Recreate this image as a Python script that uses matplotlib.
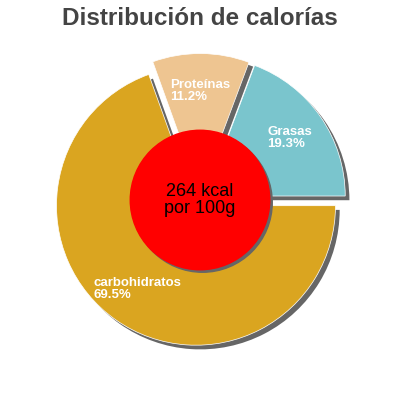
import matplotlib
matplotlib.use("Agg")
import matplotlib.pyplot as plt

# Datos
categorias = ['Grasas', 'Proteínas', 'carbohidratos']
porcentajes = [19.3, 11.2, 69.5]
colores = ['#7AC5CD', '#EEC591', '#DAA520']
texto_centro = '264 kcal\npor 100g'
titulo = 'Distribución de calorías'

plt.rcParams['font.family'] = ['Liberation Sans', 'DejaVu Sans']

fig = plt.figure(figsize=(4, 4), dpi=100)
ax = fig.add_axes([0, 0, 1, 1])
ax.set_aspect('equal')
lim = 200 / 139.5

explode = [0.05] * len(porcentajes)
etiquetas = [f'{c}\n{p:.1f}%' for c, p in zip(categorias, porcentajes)]

# sombra
sombra = 0.03
ax.pie(porcentajes, colors=['#666666'] * 3, explode=explode, startangle=0,
       counterclock=True, center=(sombra, -sombra), radius=1, frame=True)

wedges, textos = ax.pie(porcentajes, colors=colores, explode=explode, startangle=0,
                        counterclock=True, labels=etiquetas, labeldistance=0.73,
                        radius=1, frame=True,
                        wedgeprops={'linewidth': 0.5, 'edgecolor': 'white'},
                        textprops={'color': 'white', 'fontsize': 9.5, 'fontweight': 'bold'})
for t in textos:
    t.set_ha('center')
    t.set_va('center')
    t.set_multialignment('left')
    t.set_linespacing(0.95)

ax.set_xlim(-lim, lim)
ax.set_ylim(-lim, lim)
ax.axis('off')

# circulo central
ax.add_patch(plt.Circle((sombra * 0.6, -sombra * 0.6), 0.5, color='#666666', zorder=5))
ax.add_patch(plt.Circle((0, 0), 0.5, color='#FF0000', zorder=6))
ax.text(0, 0, texto_centro, ha='center', va='center', fontsize=13,
        color='black', linespacing=1.0, zorder=7)

fig.text(0.5, 1 - 25 / 400, titulo, ha='center', va='baseline', fontsize=17.5,
         fontweight='bold', color='#444444')

fig.savefig('out.png', dpi=100)
